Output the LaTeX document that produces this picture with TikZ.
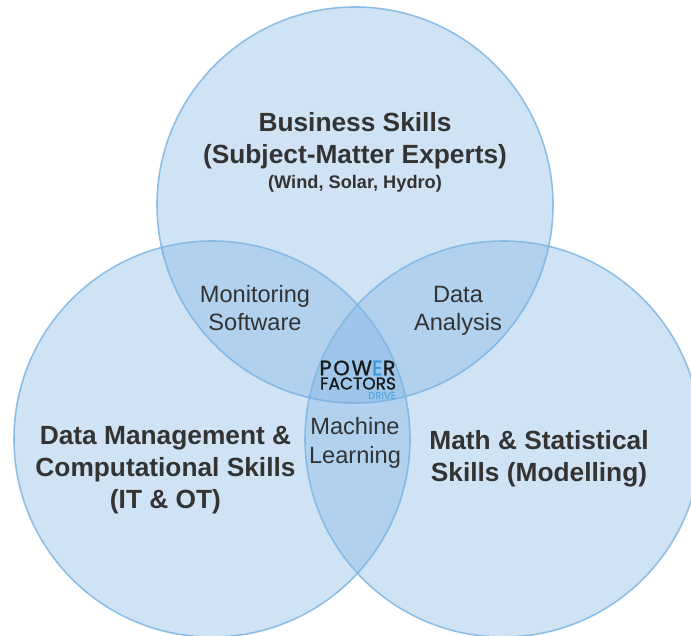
\documentclass[tikz,border=0pt]{standalone}
\usepackage{fontspec}
\setmainfont{Liberation Sans}
\newfontfamily\logofont[FakeBold=1.2]{Poppins}
\definecolor{vennfill}{HTML}{78B0E2}
\definecolor{vennline}{HTML}{7FB6E3}
\definecolor{venntext}{HTML}{333333}
\definecolor{logoblue}{HTML}{3D9BD9}
\definecolor{logoblack}{HTML}{1A1A1A}
\tikzset{
  venn/.style={shape=circle,fill=vennfill,fill opacity=0.35,draw=vennline,draw opacity=0.85,line width=1.6pt,minimum size=396pt,inner sep=0pt},
  skill/.style={text=venntext,font=\bfseries\fontsize{26.3}{31.7}\selectfont,align=center,inner sep=0pt},
  overlap/.style={text=venntext,font=\fontsize{23.6}{28.4}\selectfont,align=center,inner sep=0pt},
}
\begin{document}
\begin{tikzpicture}[x=1pt,y=-1pt]
                    \useasboundingbox (0,0) rectangle (691,636);
                    \clip (0,0) rectangle (691,636);
                    \node[venn] (business) at (355,205) {};
                    \node[venn] (data) at (212,439) {};
                    \node[venn] (math) at (503,439) {};

                    \node[skill] (businesslabel) at (355,141) {Business Skills\\(Subject-Matter Experts)};
                    \node[text=venntext,font=\bfseries\fontsize{18.2}{22}\selectfont,inner sep=0pt] (sectors) at (355,184) {(Wind, Solar, Hydro)};
                    \node[skill] (datalabel) at (165.5,470) {Data Management \&\\Computational Skills\\(IT \& OT)};
                    \node[skill] (mathlabel) at (539,459) {Math \& Statistical\\Skills (Modelling)};

                    \node[overlap] (monitoring) at (255,308) {Monitoring\\Software};
                    \node[overlap] (analysis) at (458,311) {Data\\Analysis};
                    \node[overlap] (learning) at (355,443) {Machine\\Learning};

                    \node[text=logoblack,font=\logofont\addfontfeature{LetterSpace=8}\fontsize{21}{21}\selectfont,inner sep=0pt] (logopower) at (357.5,368) {POW\textcolor{logoblue}{E}R};
                    \node[text=logoblack,font=\logofont\fontsize{17}{17}\selectfont,inner sep=0pt] (logofactors) at (358,383.5) {FACTORS};
                    \node[text=logoblue,opacity=0.6,font=\logofont\fontsize{10}{10}\selectfont,inner sep=0pt] (logodrive) at (382,395.5) {DRIVE};
                \end{tikzpicture}
\end{document}
